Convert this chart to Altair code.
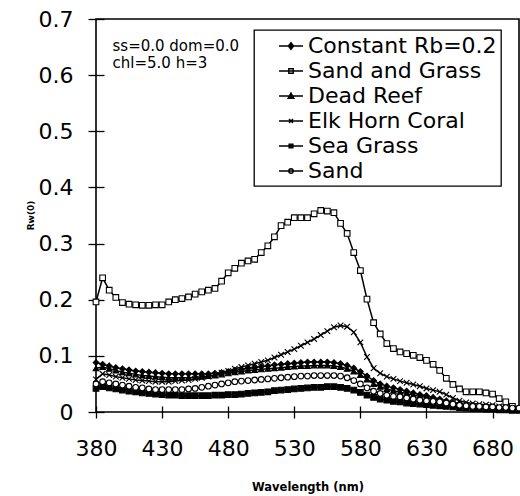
import altair as alt
import pandas as pd

wavelengths = list(range(380, 701, 5))

names = ["Constant Rb=0.2", "Sand and Grass", "Dead Reef", "Elk Horn Coral", "Sea Grass", "Sand"]

constant_rb = [0.088, 0.085, 0.082, 0.079, 0.077, 0.075, 0.073, 0.072, 0.071, 0.070,
               0.069, 0.068, 0.068, 0.068, 0.068, 0.068, 0.068, 0.068, 0.069, 0.070,
               0.072, 0.074, 0.076, 0.078, 0.079, 0.081, 0.082, 0.084, 0.085, 0.086,
               0.087, 0.088, 0.089, 0.089, 0.089, 0.089, 0.088, 0.086, 0.083, 0.078,
               0.072, 0.064, 0.056, 0.050, 0.046, 0.043, 0.040, 0.037, 0.034, 0.031,
               0.029, 0.026, 0.023, 0.020, 0.017, 0.015, 0.013, 0.011, 0.010, 0.009,
               0.008, 0.007, 0.006, 0.005, 0.004]

sand_and_grass = [0.196, 0.239, 0.217, 0.204, 0.195, 0.192, 0.191, 0.190, 0.190, 0.191,
                  0.191, 0.196, 0.200, 0.202, 0.205, 0.210, 0.214, 0.217, 0.220, 0.233,
                  0.248, 0.256, 0.265, 0.269, 0.272, 0.284, 0.296, 0.312, 0.332, 0.338,
                  0.346, 0.346, 0.346, 0.353, 0.359, 0.358, 0.355, 0.336, 0.318, 0.284,
                  0.252, 0.201, 0.159, 0.139, 0.122, 0.113, 0.107, 0.104, 0.101, 0.097,
                  0.092, 0.085, 0.074, 0.060, 0.049, 0.041, 0.036, 0.036, 0.036, 0.034,
                  0.032, 0.024, 0.018, 0.010, 0.005]

dead_reef = [0.078, 0.080, 0.077, 0.074, 0.071, 0.069, 0.067, 0.065, 0.064, 0.063,
             0.062, 0.061, 0.061, 0.061, 0.061, 0.062, 0.063, 0.064, 0.065, 0.067,
             0.069, 0.071, 0.072, 0.074, 0.075, 0.076, 0.077, 0.078, 0.079, 0.080,
             0.081, 0.082, 0.082, 0.083, 0.083, 0.083, 0.082, 0.080, 0.077, 0.072,
             0.066, 0.058, 0.050, 0.045, 0.041, 0.038, 0.035, 0.033, 0.030, 0.028,
             0.026, 0.023, 0.021, 0.018, 0.016, 0.014, 0.012, 0.011, 0.010, 0.009,
             0.008, 0.007, 0.006, 0.005, 0.004]

elk_horn = [0.058, 0.068, 0.066, 0.063, 0.061, 0.059, 0.057, 0.056, 0.055, 0.054,
            0.054, 0.054, 0.055, 0.056, 0.057, 0.059, 0.061, 0.063, 0.066, 0.070,
            0.073, 0.077, 0.080, 0.083, 0.086, 0.089, 0.092, 0.097, 0.102, 0.107,
            0.112, 0.118, 0.124, 0.130, 0.137, 0.144, 0.151, 0.154, 0.152, 0.142,
            0.124, 0.098, 0.078, 0.069, 0.063, 0.059, 0.055, 0.052, 0.049, 0.046,
            0.042, 0.039, 0.036, 0.031, 0.025, 0.020, 0.017, 0.015, 0.014, 0.013,
            0.012, 0.010, 0.008, 0.006, 0.005]

sea_grass = [0.042, 0.045, 0.043, 0.041, 0.039, 0.037, 0.036, 0.034, 0.033, 0.032,
             0.031, 0.030, 0.030, 0.029, 0.029, 0.029, 0.029, 0.029, 0.030, 0.030,
             0.031, 0.031, 0.032, 0.033, 0.034, 0.035, 0.036, 0.038, 0.039, 0.040,
             0.041, 0.042, 0.043, 0.044, 0.044, 0.045, 0.045, 0.044, 0.042, 0.039,
             0.035, 0.030, 0.026, 0.023, 0.021, 0.019, 0.018, 0.016, 0.015, 0.014,
             0.013, 0.012, 0.011, 0.010, 0.009, 0.008, 0.007, 0.006, 0.006, 0.005,
             0.005, 0.004, 0.004, 0.003, 0.003]

sand = [0.050, 0.054, 0.052, 0.050, 0.048, 0.046, 0.044, 0.043, 0.041, 0.040,
        0.040, 0.040, 0.040, 0.040, 0.041, 0.042, 0.044, 0.046, 0.048, 0.050,
        0.052, 0.054, 0.055, 0.056, 0.057, 0.058, 0.059, 0.060, 0.061, 0.062,
        0.063, 0.064, 0.064, 0.065, 0.065, 0.065, 0.065, 0.064, 0.061, 0.056,
        0.050, 0.043, 0.037, 0.033, 0.030, 0.028, 0.027, 0.025, 0.023, 0.021,
        0.020, 0.019, 0.018, 0.016, 0.014, 0.012, 0.011, 0.010, 0.010, 0.009,
        0.009, 0.008, 0.008, 0.007, 0.007]

x_ticks = [380, 430, 480, 530, 580, 630, 680]
y_ticks = [0, 0.1, 0.2, 0.3, 0.4, 0.5, 0.6, 0.7]
note_lines = ["ss=0.0 dom=0.0", "chl=5.0 h=3"]
note_x = [392.5, 392.5]
note_y = [0.652, 0.621]

series_values = [constant_rb, sand_and_grass, dead_reef, elk_horn, sea_grass, sand]
rows = []
for name, vals in zip(names, series_values):
    for i, (w, v) in enumerate(zip(wavelengths, vals)):
        rows.append({"wl": w, "rw": v, "series": name, "Legend": name, "order": i})
df = pd.DataFrame(rows)
notes = pd.DataFrame({"wl": note_x, "rw": note_y, "txt": note_lines})

FONT = "DejaVu Sans"

x_scale = alt.Scale(domain=[380, 700], nice=False, zero=False)
y_scale = alt.Scale(domain=[0, 0.7], nice=False)

plot_shapes = ["diamond", "square", "triangle-up", "M-1,-1L1,1M-1,1L1,-1", "square", "circle"]
plot_fills = ["black", "white", "black", "black", "black", "white"]
legend_strokes = ["black"] * 6

# legend symbols: short line with the series marker in its middle
def leg(marker):
    return "M-1.09,0L1.09,0" + marker

legend_paths = [
    leg("M0,-0.3L0.24,0L0,0.3L-0.24,0Z"),
    leg("M-0.2,-0.2H0.2V0.2H-0.2Z"),
    leg("M0,-0.27L0.26,0.2H-0.26Z"),
    leg("M-0.18,-0.18L0.18,0.18M-0.18,0.18L0.18,-0.18"),
    leg("M-0.17,-0.17H0.17V0.17H-0.17Z"),
    leg("M-0.2,0A0.2,0.2 0 1,0 0.2,0A0.2,0.2 0 1,0 -0.2,0Z"),
]

base = alt.Chart(df)

lines = base.mark_line(color="black", strokeWidth=1.5).encode(
    x=alt.X("wl:Q", scale=x_scale,
            axis=alt.Axis(values=x_ticks, title="Wavelength (nm)", grid=False,
                          offset=-6, tickSize=12, domain=False,
                          labelPadding=20, labelFontSize=22,
                          labelFlush=False, labelOverlap=False,
                          titleFontSize=11.5, titleFontWeight="bold",
                          titleY=81, titleBaseline="middle")),
    y=alt.Y("rw:Q", scale=y_scale,
            axis=alt.Axis(values=y_ticks, title="Rw(0)", grid=False,
                          offset=-8, tickSize=16, domain=False,
                          labelPadding=15, labelFontSize=22,
                          labelFlush=False, labelOverlap=False,
                          labelExpr="datum.value == 0 ? '0' : format(datum.value, '.1f')",
                          titleFontSize=9, titleFontWeight="bold",
                          titleAngle=-90, titleX=-74, titleY=196,
                          titleAlign="center", titleBaseline="middle")),
    detail="series:N",
    order="order:Q",
)

points = base.mark_point(filled=True, stroke="black", strokeWidth=1.1, size=32, opacity=1).encode(
    x=alt.X("wl:Q", scale=x_scale),
    y=alt.Y("rw:Q", scale=y_scale),
    shape=alt.Shape("series:N", scale=alt.Scale(domain=names, range=plot_shapes), legend=None),
    fill=alt.Fill("series:N", scale=alt.Scale(domain=names, range=plot_fills), legend=None),
)

leg_def = dict(title=None, orient="none", legendX=158, legendY=11, labelLimit=400,
               symbolStrokeWidth=1.4)

legend_layer = base.transform_filter("false").mark_point(
    filled=True, strokeWidth=1.4, opacity=1
).encode(
    x=alt.X("wl:Q", scale=x_scale),
    y=alt.Y("rw:Q", scale=y_scale),
    shape=alt.Shape("Legend:N", scale=alt.Scale(domain=names, range=legend_paths),
                    legend=alt.Legend(**leg_def)),
    fill=alt.Fill("Legend:N", scale=alt.Scale(domain=names, range=plot_fills),
                  legend=alt.Legend(**leg_def)),
    stroke=alt.Stroke("Legend:N", scale=alt.Scale(domain=names, range=legend_strokes),
                      legend=alt.Legend(**leg_def)),
)

note = alt.Chart(notes).mark_text(align="left", baseline="middle", fontSize=15, font=FONT).encode(
    x=alt.X("wl:Q", scale=x_scale),
    y=alt.Y("rw:Q", scale=y_scale),
    text="txt:N",
)

chart = alt.layer(lines, points, legend_layer, note).resolve_scale(
    shape="independent", fill="independent", stroke="independent"
).properties(
    width=423, height=393,
    autosize=alt.AutoSizeParams(type="none"),
    padding={"left": 96, "top": 19, "right": 1, "bottom": 84},
    background="white",
).configure_view(
    stroke="black", strokeWidth=1.6
).configure_axis(
    tickColor="black", tickWidth=1.3,
    labelColor="black", titleColor="black", labelFont=FONT, titleFont=FONT,
).configure_legend(
    strokeColor="black", strokeWidth=1.3, fillColor="white", padding=4,
    labelFontSize=22, labelFont=FONT, labelColor="black", labelOffset=5,
    symbolSize=484, symbolOffset=21, rowPadding=2, symbolOpacity=1,
)

chart.save("out.html", embed_options={"renderer": "svg", "actions": False})
